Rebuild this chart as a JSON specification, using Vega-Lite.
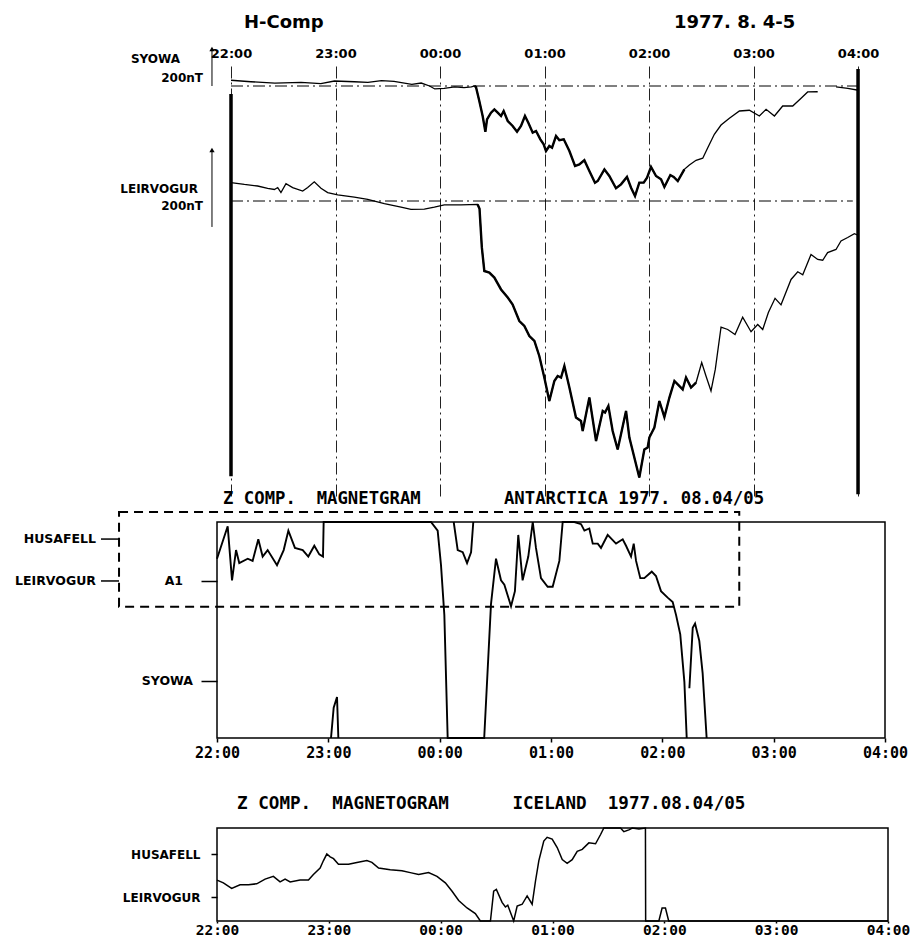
{
  "$schema": "https://vega.github.io/schema/vega-lite/v6.json",
  "autosize": {"type": "pad"},
  "padding": {"left": 14, "top": 13, "right": 0, "bottom": 0},
  "background": "white",
  "spacing": 26,
  "bounds": "flush",
  "datasets": {
    "syowa_h": [
      {"t": 22.0, "v": 31, "seg": 1}, {"t": 22.19, "v": 23, "seg": 1}, {"t": 22.42, "v": 16, "seg": 1},
      {"t": 22.67, "v": 20, "seg": 1}, {"t": 22.86, "v": 13, "seg": 1}, {"t": 22.99, "v": 27, "seg": 1},
      {"t": 23.18, "v": 23, "seg": 1}, {"t": 23.31, "v": 20, "seg": 1}, {"t": 23.44, "v": 29, "seg": 1},
      {"t": 23.56, "v": 25, "seg": 1}, {"t": 23.73, "v": 9, "seg": 1}, {"t": 23.82, "v": 16, "seg": 1},
      {"t": 23.9, "v": 0, "seg": 1}, {"t": 23.95, "v": -16, "seg": 1}, {"t": 24.04, "v": -13, "seg": 1},
      {"t": 24.14, "v": -5, "seg": 1}, {"t": 24.23, "v": -9, "seg": 1}, {"t": 24.3, "v": -5, "seg": 1},
      {"t": 24.33, "v": 0, "seg": 1}, {"t": 24.344, "v": -5, "seg": 1}, {"t": 24.376, "v": -81, "seg": 1},
      {"t": 24.408, "v": -162, "seg": 1}, {"t": 24.434, "v": -247, "seg": 1}, {"t": 24.45, "v": -180, "seg": 1},
      {"t": 24.488, "v": -144, "seg": 1}, {"t": 24.52, "v": -126, "seg": 1}, {"t": 24.552, "v": -144, "seg": 1},
      {"t": 24.584, "v": -162, "seg": 1}, {"t": 24.609, "v": -135, "seg": 1}, {"t": 24.648, "v": -189, "seg": 1},
      {"t": 24.695, "v": -216, "seg": 1}, {"t": 24.737, "v": -247, "seg": 1}, {"t": 24.775, "v": -216, "seg": 1},
      {"t": 24.813, "v": -162, "seg": 1}, {"t": 24.845, "v": -198, "seg": 1}, {"t": 24.887, "v": -252, "seg": 1},
      {"t": 24.919, "v": -243, "seg": 1}, {"t": 24.96, "v": -288, "seg": 1}, {"t": 24.992, "v": -315, "seg": 1},
      {"t": 25.014, "v": -351, "seg": 1}, {"t": 25.046, "v": -324, "seg": 1}, {"t": 25.072, "v": -333, "seg": 1},
      {"t": 25.11, "v": -270, "seg": 1}, {"t": 25.142, "v": -293, "seg": 1}, {"t": 25.184, "v": -288, "seg": 1},
      {"t": 25.238, "v": -351, "seg": 1}, {"t": 25.292, "v": -432, "seg": 1}, {"t": 25.333, "v": -423, "seg": 1},
      {"t": 25.381, "v": -401, "seg": 1}, {"t": 25.429, "v": -459, "seg": 1}, {"t": 25.483, "v": -522, "seg": 1},
      {"t": 25.509, "v": -513, "seg": 1}, {"t": 25.573, "v": -450, "seg": 1}, {"t": 25.62, "v": -486, "seg": 1},
      {"t": 25.684, "v": -552, "seg": 1}, {"t": 25.732, "v": -531, "seg": 1}, {"t": 25.789, "v": -491, "seg": 1},
      {"t": 25.828, "v": -549, "seg": 1}, {"t": 25.866, "v": -594, "seg": 1}, {"t": 25.907, "v": -522, "seg": 1},
      {"t": 25.949, "v": -522, "seg": 1}, {"t": 25.981, "v": -495, "seg": 1}, {"t": 26.019, "v": -437, "seg": 1},
      {"t": 26.067, "v": -486, "seg": 1}, {"t": 26.115, "v": -504, "seg": 1}, {"t": 26.147, "v": -545, "seg": 1},
      {"t": 26.204, "v": -481, "seg": 1}, {"t": 26.236, "v": -491, "seg": 1}, {"t": 26.275, "v": -513, "seg": 1},
      {"t": 26.338, "v": -450, "seg": 1}, {"t": 26.386, "v": -427, "seg": 1}, {"t": 26.45, "v": -401, "seg": 1},
      {"t": 26.514, "v": -390, "seg": 1}, {"t": 26.562, "v": -333, "seg": 1}, {"t": 26.625, "v": -261, "seg": 1},
      {"t": 26.689, "v": -211, "seg": 1}, {"t": 26.769, "v": -174, "seg": 1}, {"t": 26.865, "v": -135, "seg": 1},
      {"t": 26.96, "v": -131, "seg": 1}, {"t": 27.056, "v": -162, "seg": 1}, {"t": 27.12, "v": -126, "seg": 1},
      {"t": 27.2, "v": -162, "seg": 1}, {"t": 27.279, "v": -108, "seg": 1}, {"t": 27.375, "v": -108, "seg": 1},
      {"t": 27.455, "v": -66, "seg": 1}, {"t": 27.518, "v": -32, "seg": 1}, {"t": 27.614, "v": -31, "seg": 1},
      {"t": 27.79, "v": -5, "seg": 2}, {"t": 27.902, "v": -13, "seg": 2}, {"t": 28.003, "v": -23, "seg": 2}
    ],
    "leir_h": [
      {"t": 22.0, "v": 48}, {"t": 22.128, "v": 43}, {"t": 22.255, "v": 39}, {"t": 22.351, "v": 33},
      {"t": 22.415, "v": 30}, {"t": 22.447, "v": 35}, {"t": 22.478, "v": 22}, {"t": 22.526, "v": 45},
      {"t": 22.59, "v": 35}, {"t": 22.686, "v": 26}, {"t": 22.734, "v": 35}, {"t": 22.797, "v": 50},
      {"t": 22.861, "v": 33}, {"t": 22.925, "v": 22}, {"t": 23.021, "v": 16}, {"t": 23.18, "v": 10},
      {"t": 23.308, "v": 4}, {"t": 23.467, "v": -7}, {"t": 23.627, "v": -16}, {"t": 23.722, "v": -22},
      {"t": 23.85, "v": -21}, {"t": 23.946, "v": -16}, {"t": 24.041, "v": -10}, {"t": 24.201, "v": -10},
      {"t": 24.36, "v": -9}, {"t": 24.378, "v": -20}, {"t": 24.4, "v": -120}, {"t": 24.424, "v": -182},
      {"t": 24.472, "v": -186}, {"t": 24.52, "v": -199}, {"t": 24.584, "v": -230}, {"t": 24.648, "v": -251},
      {"t": 24.695, "v": -269}, {"t": 24.759, "v": -312}, {"t": 24.807, "v": -325}, {"t": 24.855, "v": -351},
      {"t": 24.903, "v": -364}, {"t": 24.95, "v": -403}, {"t": 24.998, "v": -459}, {"t": 25.046, "v": -520},
      {"t": 25.094, "v": -468}, {"t": 25.126, "v": -455}, {"t": 25.158, "v": -459}, {"t": 25.19, "v": -429},
      {"t": 25.238, "v": -485}, {"t": 25.301, "v": -563}, {"t": 25.349, "v": -572}, {"t": 25.365, "v": -598},
      {"t": 25.429, "v": -511}, {"t": 25.493, "v": -624}, {"t": 25.557, "v": -546}, {"t": 25.579, "v": -550},
      {"t": 25.611, "v": -533}, {"t": 25.652, "v": -598}, {"t": 25.7, "v": -646}, {"t": 25.78, "v": -546},
      {"t": 25.812, "v": -615}, {"t": 25.907, "v": -719}, {"t": 25.955, "v": -646}, {"t": 25.987, "v": -641},
      {"t": 26.003, "v": -615}, {"t": 26.051, "v": -589}, {"t": 26.099, "v": -520}, {"t": 26.147, "v": -562},
      {"t": 26.195, "v": -511}, {"t": 26.243, "v": -468}, {"t": 26.322, "v": -490}, {"t": 26.354, "v": -459},
      {"t": 26.402, "v": -485}, {"t": 26.45, "v": -472}, {"t": 26.504, "v": -420}, {"t": 26.545, "v": -455},
      {"t": 26.593, "v": -494}, {"t": 26.634, "v": -438}, {"t": 26.689, "v": -328}, {"t": 26.753, "v": -334},
      {"t": 26.823, "v": -347}, {"t": 26.896, "v": -302}, {"t": 26.976, "v": -340}, {"t": 27.04, "v": -321},
      {"t": 27.088, "v": -334}, {"t": 27.142, "v": -290}, {"t": 27.206, "v": -253}, {"t": 27.263, "v": -270},
      {"t": 27.359, "v": -204}, {"t": 27.423, "v": -184}, {"t": 27.471, "v": -192}, {"t": 27.55, "v": -139},
      {"t": 27.614, "v": -152}, {"t": 27.662, "v": -154}, {"t": 27.709, "v": -134}, {"t": 27.789, "v": -126},
      {"t": 27.837, "v": -104}, {"t": 27.901, "v": -95}, {"t": 27.965, "v": -85}, {"t": 28.0, "v": -89}
    ],
    "z_ant": [
      {"t": 22.0, "v": 83, "seg": "A"}, {"t": 22.096, "v": 98, "seg": "A"}, {"t": 22.135, "v": 73, "seg": "A"},
      {"t": 22.171, "v": 87, "seg": "A"}, {"t": 22.2, "v": 81, "seg": "A"}, {"t": 22.276, "v": 83, "seg": "A"},
      {"t": 22.32, "v": 82, "seg": "A"}, {"t": 22.371, "v": 92, "seg": "A"}, {"t": 22.41, "v": 84, "seg": "A"},
      {"t": 22.455, "v": 87, "seg": "A"}, {"t": 22.539, "v": 80, "seg": "A"}, {"t": 22.599, "v": 87, "seg": "A"},
      {"t": 22.641, "v": 96, "seg": "A"}, {"t": 22.7, "v": 88, "seg": "A"}, {"t": 22.77, "v": 87, "seg": "A"},
      {"t": 22.82, "v": 84, "seg": "A"}, {"t": 22.874, "v": 89, "seg": "A"}, {"t": 22.919, "v": 85, "seg": "A"},
      {"t": 22.952, "v": 84, "seg": "A"}, {"t": 22.958, "v": 100, "seg": "A"}, {"t": 23.922, "v": 100, "seg": "A"},
      {"t": 23.982, "v": 96, "seg": "A"}, {"t": 24.012, "v": 80, "seg": "A"}, {"t": 24.042, "v": 57, "seg": "A"},
      {"t": 24.072, "v": 0, "seg": "A"}, {"t": 24.4, "v": 0, "seg": "A"}, {"t": 24.461, "v": 62, "seg": "A"},
      {"t": 24.506, "v": 83, "seg": "A"}, {"t": 24.551, "v": 73, "seg": "A"}, {"t": 24.581, "v": 71, "seg": "A"},
      {"t": 24.641, "v": 61, "seg": "A"}, {"t": 24.676, "v": 68, "seg": "A"}, {"t": 24.706, "v": 94, "seg": "A"},
      {"t": 24.745, "v": 73, "seg": "A"}, {"t": 24.796, "v": 84, "seg": "A"}, {"t": 24.836, "v": 100, "seg": "A"},
      {"t": 24.865, "v": 88, "seg": "A"}, {"t": 24.91, "v": 74, "seg": "A"}, {"t": 24.97, "v": 70, "seg": "A"},
      {"t": 25.015, "v": 70, "seg": "A"}, {"t": 25.075, "v": 82, "seg": "A"}, {"t": 25.105, "v": 100, "seg": "A"},
      {"t": 25.21, "v": 100, "seg": "A"}, {"t": 25.27, "v": 99, "seg": "A"}, {"t": 25.3, "v": 96, "seg": "A"},
      {"t": 25.344, "v": 97, "seg": "A"}, {"t": 25.375, "v": 90, "seg": "A"}, {"t": 25.42, "v": 90, "seg": "A"},
      {"t": 25.449, "v": 88, "seg": "A"}, {"t": 25.509, "v": 94, "seg": "A"}, {"t": 25.584, "v": 90, "seg": "A"},
      {"t": 25.644, "v": 92, "seg": "A"}, {"t": 25.674, "v": 89, "seg": "A"}, {"t": 25.719, "v": 84, "seg": "A"},
      {"t": 25.743, "v": 90, "seg": "A"}, {"t": 25.764, "v": 82, "seg": "A"}, {"t": 25.802, "v": 74, "seg": "A"},
      {"t": 25.838, "v": 74, "seg": "A"}, {"t": 25.883, "v": 76, "seg": "A"}, {"t": 25.905, "v": 77, "seg": "A"},
      {"t": 25.943, "v": 75, "seg": "A"}, {"t": 25.988, "v": 68, "seg": "A"}, {"t": 26.048, "v": 65, "seg": "A"},
      {"t": 26.093, "v": 63, "seg": "A"}, {"t": 26.123, "v": 57, "seg": "A"}, {"t": 26.161, "v": 48, "seg": "A"},
      {"t": 26.198, "v": 26, "seg": "A"}, {"t": 26.219, "v": 0, "seg": "A"},
      {"t": 26.243, "v": 23, "seg": "B"}, {"t": 26.273, "v": 51, "seg": "B"}, {"t": 26.294, "v": 53, "seg": "B"},
      {"t": 26.332, "v": 45, "seg": "B"}, {"t": 26.362, "v": 30, "seg": "B"}, {"t": 26.398, "v": 0, "seg": "B"},
      {"t": 24.126, "v": 100, "seg": "C"}, {"t": 24.162, "v": 87, "seg": "C"}, {"t": 24.207, "v": 86, "seg": "C"},
      {"t": 24.246, "v": 81, "seg": "C"}, {"t": 24.282, "v": 86, "seg": "C"}, {"t": 24.302, "v": 100, "seg": "C"},
      {"t": 23.024, "v": 0, "seg": "D"}, {"t": 23.048, "v": 14, "seg": "D"}, {"t": 23.078, "v": 19, "seg": "D"},
      {"t": 23.09, "v": 0, "seg": "D"}
    ],
    "z_ice": [
      {"t": 22.0, "v": 44}, {"t": 22.057, "v": 41}, {"t": 22.131, "v": 35}, {"t": 22.206, "v": 39},
      {"t": 22.281, "v": 39}, {"t": 22.355, "v": 40}, {"t": 22.43, "v": 45}, {"t": 22.504, "v": 48},
      {"t": 22.564, "v": 42}, {"t": 22.609, "v": 45}, {"t": 22.654, "v": 42}, {"t": 22.743, "v": 44},
      {"t": 22.818, "v": 44}, {"t": 22.862, "v": 50}, {"t": 22.922, "v": 57}, {"t": 22.952, "v": 65},
      {"t": 22.982, "v": 72}, {"t": 23.012, "v": 69}, {"t": 23.042, "v": 67}, {"t": 23.086, "v": 61},
      {"t": 23.176, "v": 61}, {"t": 23.251, "v": 63}, {"t": 23.34, "v": 65}, {"t": 23.385, "v": 63},
      {"t": 23.445, "v": 57}, {"t": 23.549, "v": 55}, {"t": 23.654, "v": 54}, {"t": 23.728, "v": 52},
      {"t": 23.803, "v": 50}, {"t": 23.892, "v": 52}, {"t": 23.967, "v": 48}, {"t": 24.042, "v": 41},
      {"t": 24.102, "v": 32}, {"t": 24.161, "v": 22}, {"t": 24.236, "v": 14}, {"t": 24.31, "v": 8},
      {"t": 24.355, "v": 0}, {"t": 24.445, "v": 0}, {"t": 24.474, "v": 32}, {"t": 24.498, "v": 34},
      {"t": 24.549, "v": 20}, {"t": 24.579, "v": 15}, {"t": 24.6, "v": 17}, {"t": 24.653, "v": 0},
      {"t": 24.684, "v": 16}, {"t": 24.729, "v": 18}, {"t": 24.773, "v": 27}, {"t": 24.818, "v": 18},
      {"t": 24.848, "v": 43}, {"t": 24.878, "v": 65}, {"t": 24.922, "v": 86}, {"t": 24.952, "v": 90},
      {"t": 24.997, "v": 88}, {"t": 25.042, "v": 79}, {"t": 25.087, "v": 66}, {"t": 25.131, "v": 62},
      {"t": 25.176, "v": 66}, {"t": 25.221, "v": 75}, {"t": 25.266, "v": 77}, {"t": 25.325, "v": 84},
      {"t": 25.385, "v": 83}, {"t": 25.43, "v": 93}, {"t": 25.459, "v": 100}, {"t": 25.608, "v": 100},
      {"t": 25.638, "v": 96}, {"t": 25.683, "v": 98}, {"t": 25.713, "v": 100}, {"t": 25.773, "v": 99},
      {"t": 25.831, "v": 100}, {"t": 25.833, "v": 0}, {"t": 25.951, "v": 0}, {"t": 25.98, "v": 14},
      {"t": 26.01, "v": 14}, {"t": 26.039, "v": 0}, {"t": 28.0, "v": 0}
    ]
  },
  "vconcat": [
    {
      "width": 668,
      "height": 433,
      "view": {"stroke": null},
      "layer": [
        {
          "layer": [
            {
              "data": {"name": "syowa_h"},
              "mark": {"type": "line", "color": "black", "strokeWidth": 1.3},
              "encoding": {
                "x": {
                  "field": "t", "type": "quantitative",
                  "scale": {"domain": [21.866, 28.258], "nice": false, "zero": false},
                  "axis": {
                    "orient": "top", "values": [22, 23, 24, 25, 26, 27, 28],
                    "labelExpr": "(datum.value % 24 < 10 ? '0' : '') + (datum.value % 24) + ':00'",
                    "ticks": false, "domain": false, "grid": true,
                    "gridDash": [12, 4, 2, 4], "gridColor": "#222", "gridWidth": 1,
                    "labelFont": "DejaVu Sans", "labelFontWeight": "bold", "labelFontSize": 13,
                    "labelColor": "black", "labelPadding": 3, "labelOverlap": false, "labelFlush": false,
                    "title": null
                  }
                },
                "y": {"field": "v", "type": "quantitative", "scale": {"domain": [-2214, 124.2], "nice": false, "zero": false}, "axis": null},
                "detail": {"field": "seg"}
              }
            },
            {
              "data": {"name": "syowa_h"},
              "transform": [{"filter": {"field": "t", "range": [24.33, 26.34]}}],
              "mark": {"type": "line", "color": "black", "strokeWidth": 2.4},
              "encoding": {
                "x": {"field": "t", "type": "quantitative"},
                "y": {"field": "v", "type": "quantitative", "axis": null}
              }
            },
            {
              "data": {"values": [{}]},
              "mark": {"type": "rule", "color": "black", "strokeWidth": 1, "strokeDash": [12, 4, 2, 4]},
              "encoding": {"x": {"datum": 22}, "x2": {"datum": 28}, "y": {"datum": 0, "axis": null}}
            },
            {
              "data": {"values": [{}]},
              "mark": {"type": "rule", "color": "black", "strokeWidth": 3.5},
              "encoding": {"x": {"datum": 22}, "y": {"datum": -43, "axis": null}, "y2": {"datum": -2108}}
            },
            {
              "data": {"values": [{}]},
              "mark": {"type": "rule", "color": "black", "strokeWidth": 3.5},
              "encoding": {"x": {"datum": 28}, "y": {"datum": 92, "axis": null}, "y2": {"datum": -2205}}
            },
            {
              "data": {"values": [{}]},
              "mark": {"type": "rule", "color": "black", "strokeWidth": 1},
              "encoding": {"x": {"datum": 21.818}, "y": {"datum": 0, "axis": null}, "y2": {"datum": 200}}
            },
            {
              "data": {"values": [{}]},
              "mark": {"type": "point", "shape": "triangle-up", "filled": true, "color": "black", "size": 28, "opacity": 1},
              "encoding": {"x": {"datum": 21.818}, "y": {"datum": 200, "axis": null}}
            },
            {
              "data": {"values": [{}]},
              "mark": {"type": "text", "text": "SYOWA", "align": "right", "baseline": "middle", "font": "DejaVu Sans", "fontWeight": "bold", "fontSize": 12, "color": "black"},
              "encoding": {"x": {"datum": 21.512}, "y": {"datum": 146, "axis": null}}
            },
            {
              "data": {"values": [{}]},
              "mark": {"type": "text", "text": "200nT", "align": "right", "baseline": "middle", "font": "DejaVu Sans", "fontWeight": "bold", "fontSize": 12, "color": "black"},
              "encoding": {"x": {"datum": 21.732}, "y": {"datum": 43, "axis": null}}
            },
            {
              "data": {"values": [{}]},
              "mark": {"type": "text", "text": "H-Comp", "align": "left", "baseline": "middle", "font": "DejaVu Sans", "fontWeight": "bold", "fontSize": 18, "color": "black"},
              "encoding": {"x": {"datum": 22.124}, "y": {"datum": 340.5, "axis": null}}
            },
            {
              "data": {"values": [{}]},
              "mark": {"type": "text", "text": "1977.\u00a08.\u00a04-5", "align": "left", "baseline": "middle", "font": "DejaVu Sans", "fontWeight": "bold", "fontSize": 18, "color": "black"},
              "encoding": {"x": {"datum": 26.239}, "y": {"datum": 340.5, "axis": null}}
            }
          ]
        },
        {
          "layer": [
            {
              "data": {"name": "leir_h"},
              "mark": {"type": "line", "color": "black", "strokeWidth": 1.3},
              "encoding": {
                "x": {"field": "t", "type": "quantitative"},
                "y": {"field": "v", "type": "quantitative", "scale": {"domain": [-767, 358.8], "nice": false, "zero": false}, "axis": null}
              }
            },
            {
              "data": {"name": "leir_h"},
              "transform": [{"filter": {"field": "t", "range": [24.36, 26.45]}}],
              "mark": {"type": "line", "color": "black", "strokeWidth": 2.4},
              "encoding": {
                "x": {"field": "t", "type": "quantitative"},
                "y": {"field": "v", "type": "quantitative", "axis": null}
              }
            },
            {
              "data": {"values": [{}]},
              "mark": {"type": "rule", "color": "black", "strokeWidth": 1, "strokeDash": [12, 4, 2, 4]},
              "encoding": {"x": {"datum": 22}, "x2": {"datum": 27.95}, "y": {"datum": 0, "axis": null}}
            },
            {
              "data": {"values": [{}]},
              "mark": {"type": "rule", "color": "black", "strokeWidth": 1},
              "encoding": {"x": {"datum": 21.818}, "y": {"datum": -67.5, "axis": null}, "y2": {"datum": 132.5}}
            },
            {
              "data": {"values": [{}]},
              "mark": {"type": "point", "shape": "triangle-up", "filled": true, "color": "black", "size": 28, "opacity": 1},
              "encoding": {"x": {"datum": 21.818}, "y": {"datum": 132.5, "axis": null}}
            },
            {
              "data": {"values": [{}]},
              "mark": {"type": "text", "text": "LEIRVOGUR", "align": "right", "baseline": "middle", "font": "DejaVu Sans", "fontWeight": "bold", "fontSize": 12, "color": "black"},
              "encoding": {"x": {"datum": 21.684}, "y": {"datum": 31.2, "axis": null}}
            },
            {
              "data": {"values": [{}]},
              "mark": {"type": "text", "text": "200nT", "align": "right", "baseline": "middle", "font": "DejaVu Sans", "fontWeight": "bold", "fontSize": 12, "color": "black"},
              "encoding": {"x": {"datum": 21.732}, "y": {"datum": -13, "axis": null}}
            }
          ]
        }
      ],
      "resolve": {"scale": {"y": "independent"}, "axis": {"y": "independent"}}
    },
    {
      "width": 668,
      "height": 216,
      "layer": [
        {
          "data": {"values": [{}]},
          "mark": {"type": "rect", "filled": false, "stroke": "black", "strokeWidth": 2, "strokeDash": [9, 6]},
          "encoding": {"x": {"datum": 21.12}, "x2": {"datum": 26.691}, "y": {"datum": 60.8}, "y2": {"datum": 104.6}}
        },
        {
          "data": {"name": "z_ant"},
          "mark": {"type": "line", "color": "black", "strokeWidth": 1.9},
          "encoding": {
            "x": {
              "field": "t", "type": "quantitative",
              "scale": {"domain": [22, 28], "nice": false, "zero": false},
              "axis": {
                "values": [22, 23, 24, 25, 26, 27, 28],
                "labelExpr": "(datum.value % 24 < 10 ? '0' : '') + (datum.value % 24) + ':00'",
                "tickSize": 4, "tickColor": "black", "tickWidth": 1.5, "domain": false, "grid": false,
                "labelFont": "DejaVu Sans Mono", "labelFontWeight": "bold", "labelFontSize": 15,
                "labelColor": "black", "labelPadding": 3, "labelOverlap": false, "labelFlush": false,
                "title": null
              }
            },
            "y": {
              "field": "v", "type": "quantitative",
              "scale": {"domain": [0, 100], "nice": false, "zero": false},
              "axis": {
                "values": [72.7, 26.4], "labels": false, "tickSize": 16, "tickWidth": 1.5,
                "tickColor": "black", "domain": false, "grid": false, "title": null
              }
            },
            "detail": {"field": "seg"}
          }
        },
        {
          "data": {"values": [{}]},
          "mark": {"type": "rule", "color": "black", "strokeWidth": 1.5},
          "encoding": {"x": {"datum": 20.958}, "x2": {"datum": 21.12}, "y": {"datum": 92.1}}
        },
        {
          "data": {"values": [{}]},
          "mark": {"type": "rule", "color": "black", "strokeWidth": 1.5},
          "encoding": {"x": {"datum": 20.958}, "x2": {"datum": 21.12}, "y": {"datum": 72.7}}
        },
        {
          "data": {"values": [{}]},
          "mark": {"type": "text", "text": "HUSAFELL", "align": "right", "baseline": "middle", "font": "DejaVu Sans", "fontWeight": "bold", "fontSize": 12.5, "color": "black"},
          "encoding": {"x": {"datum": 20.913}, "y": {"datum": 92.1}}
        },
        {
          "data": {"values": [{}]},
          "mark": {"type": "text", "text": "LEIRVOGUR", "align": "right", "baseline": "middle", "font": "DejaVu Sans", "fontWeight": "bold", "fontSize": 12.5, "color": "black"},
          "encoding": {"x": {"datum": 20.913}, "y": {"datum": 72.7}}
        },
        {
          "data": {"values": [{}]},
          "mark": {"type": "text", "text": "A1", "align": "right", "baseline": "middle", "font": "DejaVu Sans", "fontWeight": "bold", "fontSize": 12.5, "color": "black"},
          "encoding": {"x": {"datum": 21.695}, "y": {"datum": 72.7}}
        },
        {
          "data": {"values": [{}]},
          "mark": {"type": "text", "text": "SYOWA", "align": "right", "baseline": "middle", "font": "DejaVu Sans", "fontWeight": "bold", "fontSize": 12.5, "color": "black"},
          "encoding": {"x": {"datum": 21.784}, "y": {"datum": 26.4}}
        },
        {
          "data": {"values": [{}]},
          "mark": {"type": "text", "text": "Z\u00a0COMP.\u00a0\u00a0MAGNETGRAM\u00a0\u00a0\u00a0\u00a0\u00a0\u00a0\u00a0\u00a0ANTARCTICA\u00a01977.\u00a008.04/05", "align": "left", "baseline": "middle", "font": "DejaVu Sans Mono", "fontWeight": "bold", "fontSize": 17.3, "color": "black"},
          "encoding": {"x": {"datum": 22.054}, "y": {"datum": 110.5}}
        }
      ]
    },
    {
      "width": 671,
      "height": 157,
      "view": {"stroke": null},
      "layer": [
        {
          "data": {"values": [{}]},
          "mark": {"type": "rect", "filled": false, "stroke": "black", "strokeWidth": 1.5},
          "encoding": {"x": {"datum": 22}, "x2": {"datum": 28}, "y": {"datum": 0}, "y2": {"datum": 100}}
        },
        {
          "data": {"name": "z_ice"},
          "mark": {"type": "line", "color": "black", "strokeWidth": 1.5},
          "encoding": {
            "x": {
              "field": "t", "type": "quantitative",
              "scale": {"domain": [22, 28], "nice": false, "zero": false},
              "axis": {
                "values": [22, 23, 24, 25, 26, 27, 28],
                "labelExpr": "(datum.value % 24 < 10 ? '0' : '') + (datum.value % 24) + ':00'",
                "tickSize": 2, "tickColor": "black", "tickWidth": 1.5, "domain": false, "grid": false,
                "labelFont": "DejaVu Sans Mono", "labelFontWeight": "bold", "labelFontSize": 14.5,
                "labelColor": "black", "labelPadding": 0, "labelOverlap": false, "labelFlush": false,
                "title": null
              }
            },
            "y": {
              "field": "v", "type": "quantitative",
              "scale": {"domain": [0, 168.8], "nice": false, "zero": false},
              "axis": {
                "values": [72, 25.8],
                "labelExpr": "datum.value > 50 ? 'HUSAFELL' : 'LEIRVOGUR'",
                "tickSize": 6, "tickWidth": 1.5, "tickColor": "black", "domain": false, "grid": false,
                "labelFont": "DejaVu Sans", "labelFontWeight": "bold", "labelFontSize": 12,
                "labelColor": "black", "labelPadding": 11, "labelOverlap": false, "title": null
              }
            }
          }
        },
        {
          "data": {"values": [{}]},
          "mark": {"type": "text", "text": "Z\u00a0COMP.\u00a0\u00a0MAGNETOGRAM\u00a0\u00a0\u00a0\u00a0\u00a0\u00a0ICELAND\u00a0\u00a01977.08.04/05", "align": "left", "baseline": "middle", "font": "DejaVu Sans Mono", "fontWeight": "bold", "fontSize": 17.6, "color": "black"},
          "encoding": {"x": {"datum": 22.179}, "y": {"datum": 125.8}}
        }
      ]
    }
  ],
  "config": {
    "view": {"stroke": "black", "strokeWidth": 1.5},
    "font": "DejaVu Sans"
  }
}
